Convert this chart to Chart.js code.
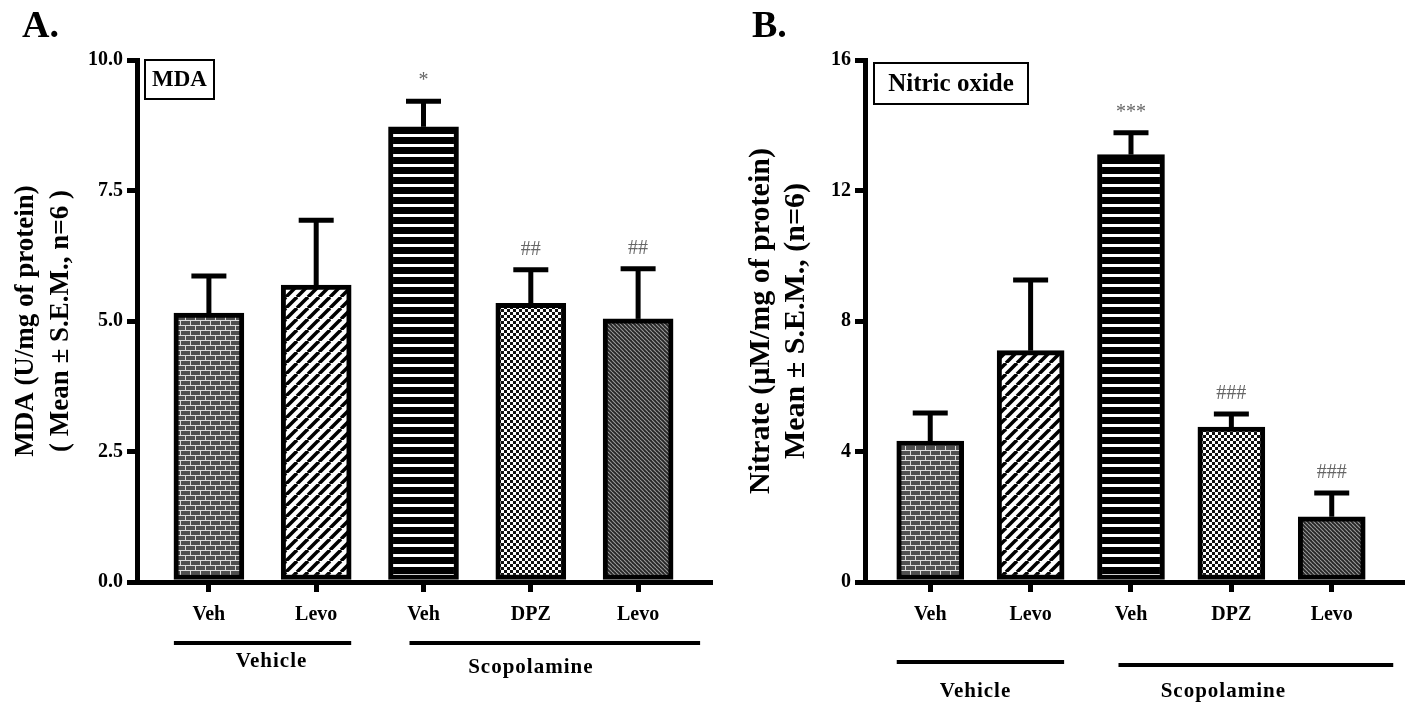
<!DOCTYPE html>
<html><head><meta charset="utf-8">
<script src="https://cdn.jsdelivr.net/npm/chart.js@4.4.1/dist/chart.umd.min.js"></script>
<style>
html,body{margin:0;padding:0;background:#fff;width:1409px;height:704px;overflow:hidden}
#wa{position:absolute;left:0;top:0;width:720px;height:704px}
#wb{position:absolute;left:720px;top:0;width:689px;height:704px}
</style></head><body>
<div id="wa"><canvas id="ca"></canvas></div>
<div id="wb"><canvas id="cb"></canvas></div>
<script>
// ---- data ----
const categories = ["Veh", "Levo", "Veh", "DPZ", "Levo"];
const groupNames = ["Vehicle", "Scopolamine"];
const groupFirst = [0, 2];
const groupLast = [1, 4];

const mdaMean = [5.15, 5.69, 8.72, 5.34, 5.04];
const mdaSem = [0.71, 1.24, 0.49, 0.64, 0.96];
const mdaMarks = ["", "", "*", "##", "##"];
const mdaTicks = [0, 2.5, 5, 7.5, 10];

const noMean = [4.32, 7.09, 13.1, 4.75, 2.0];
const noSem = [0.86, 2.17, 0.67, 0.40, 0.73];
const noMarks = ["", "", "***", "###", "###"];
const noTicks = [0, 4, 8, 12, 16];

const FAM = "'Liberation Serif','Times New Roman',serif";
Chart.defaults.font.family = FAM;
Chart.defaults.color = '#000';

// ---- patterns ----
function mkPattern(kind) {
  const c = document.createElement('canvas');
  const g = c.getContext('2d');
  if (kind === 'brick') {
    c.width = 10; c.height = 10;
    g.fillStyle = '#505050'; g.fillRect(0, 0, 10, 10);
    g.fillStyle = '#dcdcdc';
    g.fillRect(0, 0, 10, 1); g.fillRect(0, 5, 10, 1);
    g.fillRect(0, 0, 1, 5); g.fillRect(5, 5, 1, 5);
  } else if (kind === 'diag') {
    c.width = 11; c.height = 11;
    g.fillStyle = '#fff'; g.fillRect(0, 0, 11, 11);
    g.strokeStyle = '#000'; g.lineWidth = 3.5;
    for (const s of [-11, 0, 11]) { g.beginPath(); g.moveTo(s, 11); g.lineTo(s + 11, 0); g.stroke(); }
  } else if (kind === 'hstripe') {
    c.width = 10; c.height = 10;
    g.fillStyle = '#000'; g.fillRect(0, 0, 10, 10);
    g.fillStyle = '#fff'; g.fillRect(0, 4, 10, 3);
  } else if (kind === 'check') {
    c.width = 6; c.height = 6;
    g.fillStyle = '#fff'; g.fillRect(0, 0, 6, 6);
    g.fillStyle = '#111'; g.fillRect(0, 0, 3, 3); g.fillRect(3, 3, 3, 3);
  } else if (kind === 'dense') {
    c.width = 4; c.height = 4;
    g.fillStyle = '#262626'; g.fillRect(0, 0, 4, 4);
    g.strokeStyle = '#9a9a9a'; g.lineWidth = 1.1;
    for (const s of [-4, 0, 4]) { g.beginPath(); g.moveTo(s, 0); g.lineTo(s + 4, 4); g.stroke(); }
  }
  return document.createElement('canvas').getContext('2d').createPattern(c, 'repeat');
}
const fills = ['brick', 'diag', 'hstripe', 'check', 'dense'].map(mkPattern);

// ---- overlay plugin: error bars, marks, groups, panel letter, box label ----
const overlay = {
  id: 'overlay',
  afterDatasetsDraw(chart, args, o) {
    const ctx = chart.ctx, xs = chart.scales.x, ys = chart.scales.y, ca = chart.chartArea;
    ctx.save();
    ctx.strokeStyle = '#000'; ctx.lineCap = 'butt';
    o.mean.forEach((m, i) => {
      const x = xs.getPixelForValue(i);
      const y0 = ys.getPixelForValue(m);
      const y1 = ys.getPixelForValue(m + o.sem[i]);
      ctx.lineWidth = 5;
      ctx.beginPath(); ctx.moveTo(x, y0); ctx.lineTo(x, y1); ctx.stroke();
      ctx.beginPath(); ctx.moveTo(x - o.capW / 2, y1); ctx.lineTo(x + o.capW / 2, y1); ctx.stroke();
      if (o.marks[i]) {
        ctx.fillStyle = '#666';
        ctx.font = '20px ' + FAM;
        ctx.textAlign = 'center'; ctx.textBaseline = 'middle';
        ctx.fillText(o.marks[i], x, y1 - o.markGap);
      }
    });
    // group lines and labels
    const half = o.barW / 2;
    groupNames.forEach((name, g) => {
      const a = xs.getPixelForValue(groupFirst[g]) - half + o.lineOff[g][0];
      const b = xs.getPixelForValue(groupLast[g]) + half + o.lineOff[g][1];
      ctx.lineWidth = 4;
      ctx.beginPath(); ctx.moveTo(a, o.lineY[g]); ctx.lineTo(b, o.lineY[g]); ctx.stroke();
      const cx = (xs.getPixelForValue(groupFirst[g]) + xs.getPixelForValue(groupLast[g])) / 2 + o.labelDx[g];
      ctx.fillStyle = '#000';
      ctx.font = 'bold 21px ' + FAM;
      ctx.textAlign = 'center'; ctx.textBaseline = 'middle';
      try { ctx.letterSpacing = '1px'; } catch (e) {}
      ctx.fillText(name, cx, o.labelY[g]);
      try { ctx.letterSpacing = '0px'; } catch (e) {}
    });
    // panel letter
    ctx.fillStyle = '#000';
    ctx.font = 'bold 38px ' + FAM;
    ctx.textAlign = 'left'; ctx.textBaseline = 'alphabetic';
    ctx.fillText(o.letter, o.letterX, 37);
    // box label
    const bx = ca.left + o.box[0], by = o.box[1], bw = o.box[2], bh = o.box[3];
    ctx.lineWidth = 2;
    ctx.strokeRect(bx, by, bw, bh);
    ctx.font = 'bold ' + o.boxFont + 'px ' + FAM;
    ctx.textAlign = 'center'; ctx.textBaseline = 'middle';
    ctx.fillText(o.boxText, bx + bw / 2, by + bh / 2 + 1);
    ctx.restore();
  }
};

function makeChart(id, cfg) {
  return new Chart(document.getElementById(id), {
    type: 'bar',
    data: {
      datasets: [{
        data: cfg.mean.map((v, i) => ({ x: i, y: v })),
        backgroundColor: fills,
        borderColor: '#000',
        borderWidth: 5,
        borderSkipped: false,
        barThickness: cfg.barW
      }]
    },
    options: {
      responsive: true,
      maintainAspectRatio: false,
      animation: false,
      layout: { padding: { left: 0, top: 60, right: cfg.padRight, bottom: 0 } },
      plugins: {
        legend: { display: false },
        tooltip: { enabled: false },
        overlay: {
          mean: cfg.mean, sem: cfg.sem, marks: cfg.marks, capW: cfg.capW, markGap: 20,
          barW: cfg.barW, lineOff: cfg.lineOff, lineY: cfg.lineY, labelY: cfg.labelY, labelDx: cfg.labelDx,
          letter: cfg.letter, letterX: cfg.letterX, box: cfg.box, boxText: cfg.boxText, boxFont: cfg.boxFont
        }
      },
      scales: {
        x: {
          type: 'linear',
          offset: false,
          min: cfg.xmin, max: cfg.xmax,
          afterBuildTicks: s => { s.ticks = categories.map((c, i) => ({ value: i })); },
          afterFit: s => { s.height = 122; },
          ticks: {
            callback: (v, i) => categories[i],
            font: { size: 20, weight: 'bold' },
            padding: 11, maxRotation: 0, autoSkip: false
          },
          grid: { offset: false, drawOnChartArea: false, drawTicks: true, tickLength: 10, lineWidth: 5, color: '#000' },
          border: { display: true, width: 5, color: '#000' }
        },
        y: {
          min: cfg.ymin, max: cfg.ymax,
          afterBuildTicks: s => { s.ticks = cfg.ticks.map(v => ({ value: v })); },
          afterFit: s => { s.width = cfg.yWidth; },
          ticks: {
            callback: v => cfg.fmt(v),
            font: { size: 20, weight: 'bold' },
            padding: 4
          },
          grid: { drawOnChartArea: false, drawTicks: true, tickLength: 10, lineWidth: 5, color: '#000' },
          border: { display: true, width: 5, color: '#000' },
          title: {
            display: true, text: cfg.ytitle, color: '#000',
            font: { size: cfg.titleSize, weight: 'bold', lineHeight: '35px' },
            padding: { top: cfg.titlePad, bottom: 0 }
          }
        }
      }
    },
    plugins: [overlay]
  });
}

makeChart('ca', {
  mean: mdaMean, sem: mdaSem, marks: mdaMarks, ticks: mdaTicks,
  ymin: 0, ymax: 10, fmt: v => v.toFixed(1),
  xmin: -0.67, xmax: 4.67, barW: 70, capW: 35, padRight: 10, yWidth: 137,
  ytitle: ["MDA (U/mg of protein)", "( Mean ± S.E.M., n=6 )"], titleSize: 27, titlePad: 9,
  lineOff: [[0, 0], [21, 27]], lineY: [643, 643], labelY: [662, 668], labelDx: [9, 0],
  letter: 'A.', letterX: 22, box: [8, 60, 69, 39], boxText: 'MDA', boxFont: 23
});

makeChart('cb', {
  mean: noMean, sem: noSem, marks: noMarks, ticks: noTicks,
  ymin: 0, ymax: 16, fmt: v => String(v),
  xmin: -0.65, xmax: 4.70, barW: 67, capW: 35, padRight: 7, yWidth: 145,
  ytitle: ["Nitrate (µM/mg of protein)", "Mean ± S.E.M., (n=6)"], titleSize: 30, titlePad: 24,
  lineOff: [[0, 0], [21, 28]], lineY: [662, 665], labelY: [692, 692], labelDx: [-5, -8],
  letter: 'B.', letterX: 32, box: [9, 63, 154, 41], boxText: 'Nitric oxide', boxFont: 25
});
</script>
</body></html>
